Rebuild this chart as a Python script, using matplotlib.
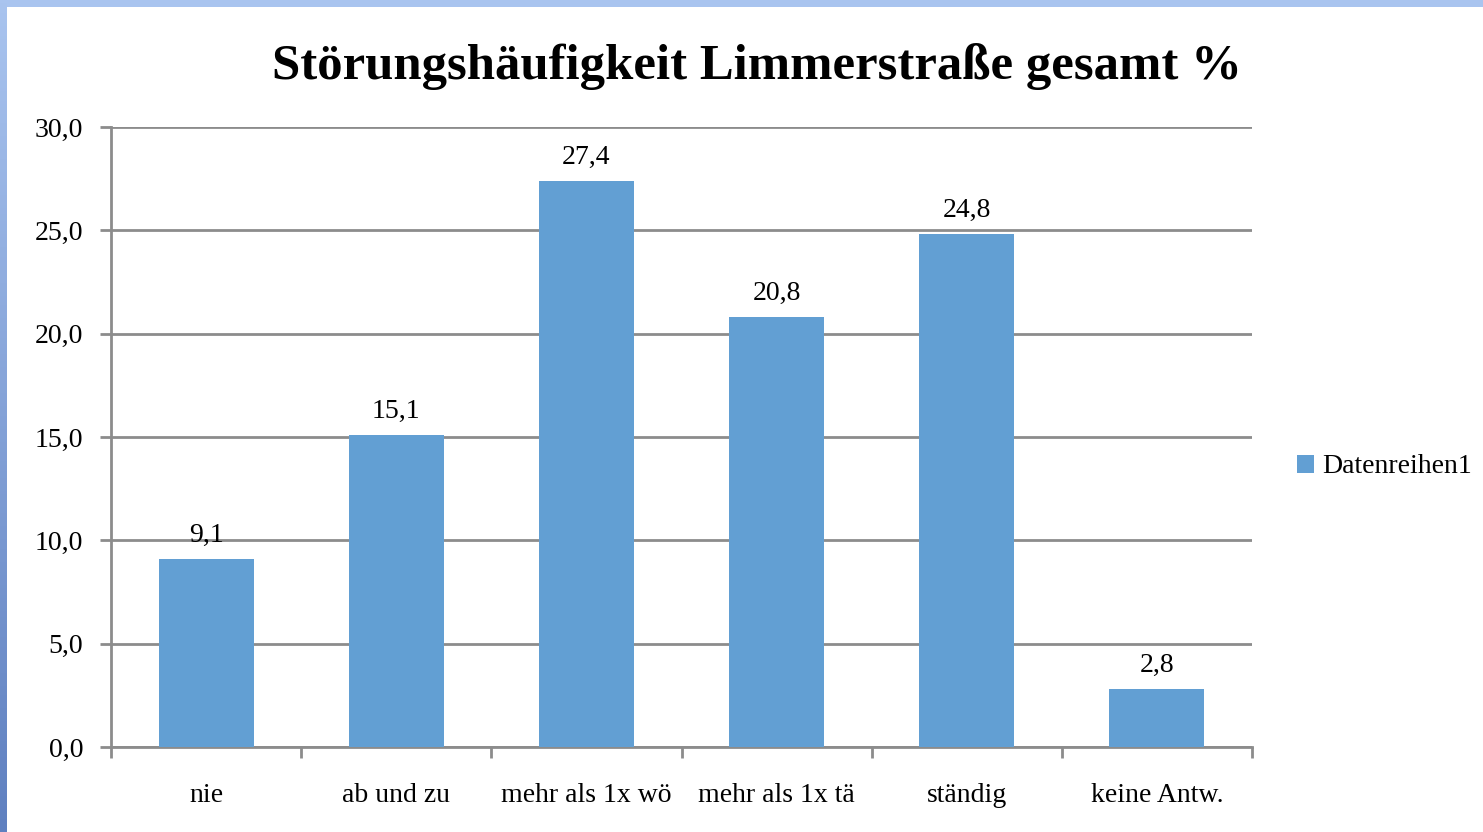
import matplotlib
matplotlib.use("Agg")
import matplotlib.pyplot as plt
import numpy as np
from matplotlib.patches import Rectangle

categories = ["nie", "ab und zu", "mehr als 1x wö", "mehr als 1x tä", "ständig", "keine Antw."]
values = [9.1, 15.1, 27.4, 20.8, 24.8, 2.8]
yticks = [0, 5, 10, 15, 20, 25, 30]
title = "Störungshäufigkeit Limmerstraße gesamt %"
series_name = "Datenreihen1"

plt.rcParams['font.family'] = ['Liberation Serif', 'DejaVu Serif']

W, H = 1483, 832
fig = plt.figure(figsize=(W/100, H/100), dpi=100)
fig.patch.set_facecolor('white')

# frame decoration: top band and left gradient band
top = fig.add_axes([0, 1 - 7/H, 1, 7/H])
top.set_axis_off()
top.add_patch(Rectangle((0, 0), 1, 1, color='#a9c4ef', transform=top.transAxes))
left = fig.add_axes([0, 0, 7/W, 1])
left.set_axis_off()
c1 = np.array([0xa9, 0xc4, 0xef]) / 255
c2 = np.array([0x5f, 0x80, 0xc0]) / 255
t = np.linspace(0, 1, 256)[:, None]
grad = (c1[None, :] * (1 - t) + c2[None, :] * t)[:, None, :]
left.imshow(grad, aspect='auto', extent=[0, 1, 1, 0])
left.set_xlim(0, 1); left.set_ylim(1, 0)

ax = fig.add_axes([111/W, 1 - 747/H, (1252 - 111)/W, (747 - 127)/H])
x = np.arange(len(categories))
bar_color = '#629fd3'
bars = ax.bar(x, values, width=0.5, color=bar_color, zorder=3, label=series_name)
ax.set_xlim(-0.5, len(categories) - 0.5)
ax.set_ylim(0, 30)

fs = 20
grid_color = '#8c8c8c'
ax.set_yticks(yticks)
ax.set_yticklabels([f"{v:.1f}".replace('.', ',') for v in yticks], fontsize=fs)
ax.yaxis.grid(True, color=grid_color, linewidth=2, zorder=0)
ax.set_axisbelow(True)

ax.set_xticks(x)
ax.set_xticklabels(categories, fontsize=fs)
ax.tick_params(axis='x', which='major', length=0, pad=26)
ax.set_xticks(np.arange(-0.5, len(categories)), minor=True)
ax.tick_params(axis='x', which='minor', length=8, width=2, color=grid_color, direction='out')
ax.tick_params(axis='y', length=8, width=2, color=grid_color, direction='out', pad=12)

for s in ['top', 'right']:
    ax.spines[s].set_visible(False)
for s in ['left', 'bottom']:
    ax.spines[s].set_color(grid_color)
    ax.spines[s].set_linewidth(2)

for xi, v in zip(x, values):
    ax.annotate(f"{v:.1f}".replace('.', ','), (xi, v), xytext=(0, 8),
                textcoords='offset points', ha='center', va='bottom', fontsize=fs)

fig.text(757/W, 1 - 67/H, title, ha='center', va='center', fontsize=36.5, fontweight='bold')

leg = fig.legend(handles=[bars], labels=[series_name], loc='center left',
                 bbox_to_anchor=(1283/W, 1 - 467/H), frameon=False, fontsize=fs,
                 handlelength=0.6, handleheight=0.6, handletextpad=0.3, borderpad=0)

fig.savefig('out.png', dpi=100, facecolor='white')
